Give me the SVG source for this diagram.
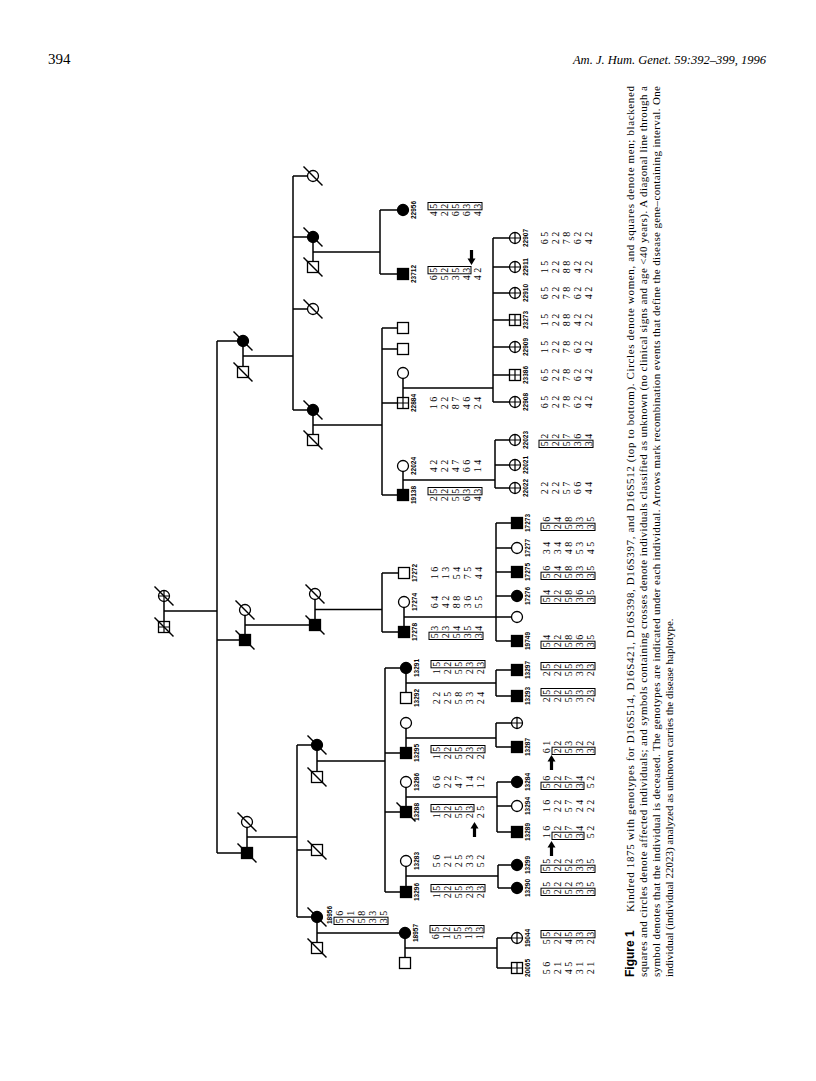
<svg xmlns="http://www.w3.org/2000/svg" xmlns:xlink="http://www.w3.org/1999/xlink" width="816" height="1081" viewBox="0 0 816 1081">
<style>
.o{fill:#fff;stroke:#000;stroke-width:1.3}
.f{fill:#000;stroke:#000;stroke-width:1.3}
.s{stroke:#000;stroke-width:1.2;fill:none}
.d{stroke:#000;stroke-width:1.5}
#connectors path{fill:none;stroke:#000;stroke-width:1.5}
.g{font-family:"Liberation Serif",serif;font-size:10px;text-anchor:middle;fill:#000}
.id{font-family:"Liberation Sans",sans-serif;font-size:6.5px;font-weight:bold;text-anchor:middle;fill:#000}
.bx{fill:none;stroke:#000;stroke-width:1}
.cap{font-family:"Liberation Serif",serif;font-size:11px;fill:#000}
.hd{font-family:"Liberation Serif",serif;fill:#000}
</style>
<defs>
<circle id="C" r="5.5" class="o"/>
<circle id="CF" r="5.5" class="f"/>
<g id="CX"><circle r="5.5" class="o"/><path d="M-5.5 0H5.5M0 -5.5V5.5" class="s"/></g>
<rect id="S" x="-5.5" y="-5.5" width="11" height="11" class="o"/>
<rect id="SF" x="-5.5" y="-5.5" width="11" height="11" class="f"/>
<g id="SX"><rect x="-5.5" y="-5.5" width="11" height="11" class="o"/><path d="M-5.5 0H5.5M0 -5.5V5.5" class="s"/></g>
<line id="D" x1="-9.5" y1="-9.5" x2="9.5" y2="9.5" class="d"/>
<path id="AU" d="M0 0L4 6.5H1.6V15H-1.6V6.5H-4Z" fill="#000"/>
<path id="AD" d="M0 0L4 -6.5H1.6V-15H-1.6V-6.5H-4Z" fill="#000"/>
</defs>
<rect width="816" height="1081" fill="#fff"/>
<text class="hd" x="48" y="64" font-size="15">394</text>
<text class="hd" x="766" y="64" font-size="12.5" font-style="italic" text-anchor="end">Am. J. Hum. Genet. 59:392–399, 1996</text>

<g id="connectors">
<path d="M164 601.5V621.5M164 611H217M217 341V853M217 341H237.5M217 640H239.5M217 853H241.5"/>
<path d="M243 346.5V366.5M243 356H293M293 176V410M293 176H307.5M293 237H307.5M293 309H307.5M293 410H307.5"/>
<path d="M313 242.5V261.5M313 252H380M380 210V274M380 210H397.5M380 274H397.5"/>
<path d="M313 415.5V434.5M313 425H382M382 328V495M382 328H397.5M382 349H397.5M382 403H397.5M382 495H397.5"/>
<path d="M403 378.5V397.5M403 388H493M493 238V402M493 238H509.5M493 267H509.5M493 293H509.5M493 320H509.5M493 347H509.5M493 375H509.5M493 402H509.5"/>
<path d="M403 471.5V489.5M403 480H495M495 440V488M495 440H509.5M495 465H509.5M495 488H509.5"/>
<path d="M245 615.5V634.5M245 625H309.5M315 599.5V619.5M315 609.5H382M382 573V632M382 573H398.5M382 632H398.5"/>
<path d="M404 607.5V626.5M404 617H496M496 523V641M496 523H511.5M496 548H511.5M496 572H511.5M496 596H511.5M496 617H511.5M496 641H511.5"/>
<path d="M247 827.5V847.5M247 837H297M297 745V917M297 745H311.5M297 850H311.5M297 917H311.5"/>
<path d="M317 750.5V771.5M317 761H385M385 668V892M385 668H400.5M385 753H400.5M385 812H400.5M385 892H400.5"/>
<path d="M406 673.5V692.5M406 683H496M496 670V696M496 670H511.5M496 696H511.5"/>
<path d="M406 728.5V747.5M406 738H496M496 723V747M496 723H511.5M496 747H511.5"/>
<path d="M406 787.5V806.5M406 797H497M497 782V832M497 782H511.5M497 806H511.5M497 832H511.5"/>
<path d="M406 866.5V886.5M406 876H498M498 865V888M498 865H511.5M498 888H511.5"/>
<path d="M317 922.5V942.5M317 933H399.5M405 938.5V957.5M405 948H497M497 938V968M497 938H511.5M497 968H511.5"/>
</g>

<g id="gen1">
<g id="i1a"><use href="#CX" x="164" y="596"/><use href="#D" x="164" y="596"/></g>
<g id="i1b"><use href="#SX" x="164" y="627"/><use href="#D" x="164" y="627"/></g>
</g>
<g id="gen2">
<g id="i2a"><use href="#CF" x="243" y="341"/><use href="#D" x="243" y="341"/></g>
<g id="i2a_sp"><use href="#S" x="243" y="372"/><use href="#D" x="243" y="372"/></g>
<g id="i2b_sp"><use href="#C" x="245" y="610"/><use href="#D" x="245" y="610"/></g>
<g id="i2b"><use href="#SF" x="245" y="640"/><use href="#D" x="245" y="640"/></g>
<g id="i2c_sp"><use href="#C" x="247" y="822"/><use href="#D" x="247" y="822"/></g>
<g id="i2c"><use href="#SF" x="247" y="853"/><use href="#D" x="247" y="853"/></g>
</g>
<g id="gen3">
<g id="i3a1"><use href="#C" x="313" y="176"/><use href="#D" x="313" y="176"/></g>
<g id="i3a2"><use href="#CF" x="313" y="237"/><use href="#D" x="313" y="237"/></g>
<g id="i3a2_sp"><use href="#S" x="313" y="267"/><use href="#D" x="313" y="267"/></g>
<g id="i3a3"><use href="#C" x="313" y="309"/><use href="#D" x="313" y="309"/></g>
<g id="i3a4"><use href="#CF" x="313" y="410"/><use href="#D" x="313" y="410"/></g>
<g id="i3a4_sp"><use href="#S" x="313" y="440"/><use href="#D" x="313" y="440"/></g>
<g id="i3b_sp"><use href="#C" x="315" y="594"/><use href="#D" x="315" y="594"/></g>
<g id="i3b"><use href="#SF" x="315" y="625"/><use href="#D" x="315" y="625"/></g>
<g id="i3c1"><use href="#CF" x="317" y="745"/><use href="#D" x="317" y="745"/></g>
<g id="i3c1_sp"><use href="#S" x="317" y="777"/><use href="#D" x="317" y="777"/></g>
<g id="i3c2"><use href="#S" x="317" y="850"/><use href="#D" x="317" y="850"/></g>
<g id="p18956"><use href="#CF" x="317" y="917"/><use href="#D" x="317" y="917"/><text class="id" transform="translate(332.3,915) rotate(-90)">18956</text><text class="g" transform="translate(342.5,917) rotate(-90)"><tspan x="0">5 6</tspan><tspan x="0" dy="11">2 1</tspan><tspan x="0" dy="11">5 8</tspan><tspan x="0" dy="11">3 3</tspan><tspan x="0" dy="11">3 5</tspan></text><rect class="bx" x="334" y="917.2" width="54" height="7.3"/></g>
<g id="i3c3_sp"><use href="#S" x="317" y="948"/><use href="#D" x="317" y="948"/></g>
</g>

<g id="gen4">
<g id="p22956"><use href="#CF" x="403" y="210"/><text class="id" transform="translate(416.3,210) rotate(-90)">22956</text><text class="g" transform="translate(436.5,210) rotate(-90)"><tspan x="0">4 5</tspan><tspan x="0" dy="11">2 2</tspan><tspan x="0" dy="11">6 5</tspan><tspan x="0" dy="11">6 3</tspan><tspan x="0" dy="11">4 3</tspan></text><rect class="bx" x="428" y="202.5" width="54" height="7.3"/></g>
<g id="p23712"><use href="#SF" x="403" y="274"/><text class="id" transform="translate(416.3,274) rotate(-90)">23712</text><text class="g" transform="translate(436.5,274) rotate(-90)"><tspan x="0">6 5</tspan><tspan x="0" dy="11">5 2</tspan><tspan x="0" dy="11">3 5</tspan><tspan x="0" dy="11">4 3</tspan><tspan x="0" dy="11">4 2</tspan></text><rect class="bx" x="428" y="266.5" width="43" height="7.3"/><use href="#AD" x="471.5" y="265"/></g>
<g id="u4a"><use href="#S" x="403" y="328"/></g>
<g id="u4b"><use href="#S" x="403" y="349"/></g>
<g id="u4c"><use href="#C" x="403" y="373"/></g>
<g id="p22884"><use href="#SX" x="403" y="403"/><text class="id" transform="translate(416.3,403) rotate(-90)">22884</text><text class="g" transform="translate(436.5,403) rotate(-90)"><tspan x="0">1 6</tspan><tspan x="0" dy="11">2 2</tspan><tspan x="0" dy="11">8 7</tspan><tspan x="0" dy="11">4 6</tspan><tspan x="0" dy="11">2 4</tspan></text></g>
<g id="p22024"><use href="#C" x="403" y="466"/><text class="id" transform="translate(416.3,466) rotate(-90)">22024</text><text class="g" transform="translate(436.5,466) rotate(-90)"><tspan x="0">4 2</tspan><tspan x="0" dy="11">2 2</tspan><tspan x="0" dy="11">4 7</tspan><tspan x="0" dy="11">6 6</tspan><tspan x="0" dy="11">1 4</tspan></text></g>
<g id="p19138"><use href="#SF" x="403" y="495"/><text class="id" transform="translate(416.3,495) rotate(-90)">19138</text><text class="g" transform="translate(436.5,495) rotate(-90)"><tspan x="0">2 5</tspan><tspan x="0" dy="11">2 2</tspan><tspan x="0" dy="11">5 5</tspan><tspan x="0" dy="11">6 3</tspan><tspan x="0" dy="11">4 3</tspan></text><rect class="bx" x="428" y="487.5" width="54" height="7.3"/></g>
<g id="p17272"><use href="#S" x="404" y="573"/><text class="id" transform="translate(417.3,573) rotate(-90)">17272</text><text class="g" transform="translate(437.5,573) rotate(-90)"><tspan x="0">1 6</tspan><tspan x="0" dy="11">1 3</tspan><tspan x="0" dy="11">5 4</tspan><tspan x="0" dy="11">7 5</tspan><tspan x="0" dy="11">4 4</tspan></text></g>
<g id="p17274"><use href="#C" x="404" y="602"/><text class="id" transform="translate(417.3,602) rotate(-90)">17274</text><text class="g" transform="translate(437.5,602) rotate(-90)"><tspan x="0">6 4</tspan><tspan x="0" dy="11">4 2</tspan><tspan x="0" dy="11">8 8</tspan><tspan x="0" dy="11">3 6</tspan><tspan x="0" dy="11">5 5</tspan></text></g>
<g id="p17278"><use href="#SF" x="404" y="632"/><text class="id" transform="translate(417.3,632) rotate(-90)">17278</text><text class="g" transform="translate(437.5,632) rotate(-90)"><tspan x="0">5 3</tspan><tspan x="0" dy="11">2 3</tspan><tspan x="0" dy="11">5 4</tspan><tspan x="0" dy="11">3 5</tspan><tspan x="0" dy="11">3 4</tspan></text><rect class="bx" x="429" y="632.2" width="54" height="7.3"/></g>
<g id="p13291"><use href="#CF" x="406" y="668"/><text class="id" transform="translate(419.3,668) rotate(-90)">13291</text><text class="g" transform="translate(439.5,668) rotate(-90)"><tspan x="0">1 5</tspan><tspan x="0" dy="11">2 2</tspan><tspan x="0" dy="11">5 5</tspan><tspan x="0" dy="11">2 3</tspan><tspan x="0" dy="11">2 3</tspan></text><rect class="bx" x="431" y="660.5" width="54" height="7.3"/></g>
<g id="p13292"><use href="#S" x="406" y="698"/><text class="id" transform="translate(419.3,698) rotate(-90)">13292</text><text class="g" transform="translate(439.5,698) rotate(-90)"><tspan x="0">2 2</tspan><tspan x="0" dy="11">2 5</tspan><tspan x="0" dy="11">5 8</tspan><tspan x="0" dy="11">3 3</tspan><tspan x="0" dy="11">2 4</tspan></text></g>
<g id="u4d"><use href="#C" x="406" y="723"/></g>
<g id="p13295"><use href="#SF" x="406" y="753"/><text class="id" transform="translate(419.3,753) rotate(-90)">13295</text><text class="g" transform="translate(439.5,753) rotate(-90)"><tspan x="0">1 5</tspan><tspan x="0" dy="11">2 2</tspan><tspan x="0" dy="11">5 5</tspan><tspan x="0" dy="11">2 3</tspan><tspan x="0" dy="11">2 3</tspan></text><rect class="bx" x="431" y="745.5" width="54" height="7.3"/></g>
<g id="p13286"><use href="#C" x="406" y="782"/><text class="id" transform="translate(419.3,782) rotate(-90)">13286</text><text class="g" transform="translate(439.5,782) rotate(-90)"><tspan x="0">6 6</tspan><tspan x="0" dy="11">2 2</tspan><tspan x="0" dy="11">4 7</tspan><tspan x="0" dy="11">1 4</tspan><tspan x="0" dy="11">1 2</tspan></text></g>
<g id="p13288"><use href="#SF" x="406" y="812"/><use href="#D" x="406" y="812"/><text class="id" transform="translate(419.3,812) rotate(-90)">13288</text><text class="g" transform="translate(439.5,812) rotate(-90)"><tspan x="0">1 5</tspan><tspan x="0" dy="11">2 2</tspan><tspan x="0" dy="11">5 5</tspan><tspan x="0" dy="11">2 3</tspan><tspan x="0" dy="11">2 5</tspan></text><rect class="bx" x="431" y="804.5" width="43" height="7.3"/><use href="#AU" x="474.5" y="822"/></g>
<g id="p13283"><use href="#C" x="406" y="861"/><text class="id" transform="translate(419.3,861) rotate(-90)">13283</text><text class="g" transform="translate(439.5,861) rotate(-90)"><tspan x="0">5 6</tspan><tspan x="0" dy="11">2 1</tspan><tspan x="0" dy="11">2 5</tspan><tspan x="0" dy="11">3 3</tspan><tspan x="0" dy="11">5 2</tspan></text></g>
<g id="p13296"><use href="#SF" x="406" y="892"/><text class="id" transform="translate(419.3,892) rotate(-90)">13296</text><text class="g" transform="translate(439.5,892) rotate(-90)"><tspan x="0">1 5</tspan><tspan x="0" dy="11">2 2</tspan><tspan x="0" dy="11">5 5</tspan><tspan x="0" dy="11">2 3</tspan><tspan x="0" dy="11">2 3</tspan></text><rect class="bx" x="431" y="884.5" width="54" height="7.3"/></g>
<g id="p18957"><use href="#CF" x="405" y="933"/><text class="id" transform="translate(418.3,933) rotate(-90)">18957</text><text class="g" transform="translate(438.5,933) rotate(-90)"><tspan x="0">6 5</tspan><tspan x="0" dy="11">1 2</tspan><tspan x="0" dy="11">5 5</tspan><tspan x="0" dy="11">1 3</tspan><tspan x="0" dy="11">1 3</tspan></text><rect class="bx" x="430" y="925.5" width="54" height="7.3"/></g>
<g id="u4e"><use href="#S" x="405" y="963"/></g>
</g>

<g id="gen5">
<g id="p22907"><use href="#CX" x="515" y="238"/><text class="id" transform="translate(528.3,238) rotate(-90)">22907</text><text class="g" transform="translate(547.5,238) rotate(-90)"><tspan x="0">6 5</tspan><tspan x="0" dy="11">2 2</tspan><tspan x="0" dy="11">7 8</tspan><tspan x="0" dy="11">6 2</tspan><tspan x="0" dy="11">4 2</tspan></text></g>
<g id="p22911"><use href="#CX" x="515" y="267"/><text class="id" transform="translate(528.3,267) rotate(-90)">22911</text><text class="g" transform="translate(547.5,267) rotate(-90)"><tspan x="0">1 5</tspan><tspan x="0" dy="11">2 2</tspan><tspan x="0" dy="11">8 8</tspan><tspan x="0" dy="11">4 2</tspan><tspan x="0" dy="11">2 2</tspan></text></g>
<g id="p22910"><use href="#CX" x="515" y="293"/><text class="id" transform="translate(528.3,293) rotate(-90)">22910</text><text class="g" transform="translate(547.5,293) rotate(-90)"><tspan x="0">6 5</tspan><tspan x="0" dy="11">2 2</tspan><tspan x="0" dy="11">7 8</tspan><tspan x="0" dy="11">6 2</tspan><tspan x="0" dy="11">4 2</tspan></text></g>
<g id="p23273"><use href="#SX" x="515" y="320"/><text class="id" transform="translate(528.3,320) rotate(-90)">23273</text><text class="g" transform="translate(547.5,320) rotate(-90)"><tspan x="0">1 5</tspan><tspan x="0" dy="11">2 2</tspan><tspan x="0" dy="11">8 8</tspan><tspan x="0" dy="11">4 2</tspan><tspan x="0" dy="11">2 2</tspan></text></g>
<g id="p22909"><use href="#CX" x="515" y="347"/><text class="id" transform="translate(528.3,347) rotate(-90)">22909</text><text class="g" transform="translate(547.5,347) rotate(-90)"><tspan x="0">1 5</tspan><tspan x="0" dy="11">2 2</tspan><tspan x="0" dy="11">7 8</tspan><tspan x="0" dy="11">6 2</tspan><tspan x="0" dy="11">4 2</tspan></text></g>
<g id="p23386"><use href="#SX" x="515" y="375"/><text class="id" transform="translate(528.3,375) rotate(-90)">23386</text><text class="g" transform="translate(547.5,375) rotate(-90)"><tspan x="0">6 5</tspan><tspan x="0" dy="11">2 2</tspan><tspan x="0" dy="11">7 8</tspan><tspan x="0" dy="11">6 2</tspan><tspan x="0" dy="11">4 2</tspan></text></g>
<g id="p22908"><use href="#CX" x="515" y="402"/><text class="id" transform="translate(528.3,402) rotate(-90)">22908</text><text class="g" transform="translate(547.5,402) rotate(-90)"><tspan x="0">6 5</tspan><tspan x="0" dy="11">2 2</tspan><tspan x="0" dy="11">7 8</tspan><tspan x="0" dy="11">6 2</tspan><tspan x="0" dy="11">4 2</tspan></text></g>
<g id="p22023"><use href="#CX" x="515" y="440"/><text class="id" transform="translate(528.3,440) rotate(-90)">22023</text><text class="g" transform="translate(547.5,440) rotate(-90)"><tspan x="0">5 2</tspan><tspan x="0" dy="11">2 2</tspan><tspan x="0" dy="11">5 7</tspan><tspan x="0" dy="11">3 6</tspan><tspan x="0" dy="11">3 4</tspan></text><rect class="bx" x="539" y="440.2" width="54" height="7.3"/></g>
<g id="p22021"><use href="#CX" x="515" y="465"/><text class="id" transform="translate(528.3,465) rotate(-90)">22021</text></g>
<g id="p22022"><use href="#CX" x="515" y="488"/><text class="id" transform="translate(528.3,488) rotate(-90)">22022</text><text class="g" transform="translate(547.5,488) rotate(-90)"><tspan x="0">2 2</tspan><tspan x="0" dy="11">2 2</tspan><tspan x="0" dy="11">5 7</tspan><tspan x="0" dy="11">6 6</tspan><tspan x="0" dy="11">4 4</tspan></text></g>
<g id="p17273"><use href="#SF" x="517" y="523"/><text class="id" transform="translate(530.3,523) rotate(-90)">17273</text><text class="g" transform="translate(549.5,523) rotate(-90)"><tspan x="0">5 6</tspan><tspan x="0" dy="11">2 4</tspan><tspan x="0" dy="11">5 8</tspan><tspan x="0" dy="11">3 3</tspan><tspan x="0" dy="11">3 5</tspan></text><rect class="bx" x="541" y="523.2" width="54" height="7.3"/></g>
<g id="p17277"><use href="#C" x="517" y="548"/><text class="id" transform="translate(530.3,548) rotate(-90)">17277</text><text class="g" transform="translate(549.5,548) rotate(-90)"><tspan x="0">3 4</tspan><tspan x="0" dy="11">3 4</tspan><tspan x="0" dy="11">4 8</tspan><tspan x="0" dy="11">5 3</tspan><tspan x="0" dy="11">4 5</tspan></text></g>
<g id="p17275"><use href="#SF" x="517" y="572"/><text class="id" transform="translate(530.3,572) rotate(-90)">17275</text><text class="g" transform="translate(549.5,572) rotate(-90)"><tspan x="0">5 6</tspan><tspan x="0" dy="11">2 4</tspan><tspan x="0" dy="11">5 8</tspan><tspan x="0" dy="11">3 3</tspan><tspan x="0" dy="11">3 5</tspan></text><rect class="bx" x="541" y="572.2" width="54" height="7.3"/></g>
<g id="p17276"><use href="#CF" x="517" y="596"/><text class="id" transform="translate(530.3,596) rotate(-90)">17276</text><text class="g" transform="translate(549.5,596) rotate(-90)"><tspan x="0">5 4</tspan><tspan x="0" dy="11">2 2</tspan><tspan x="0" dy="11">5 8</tspan><tspan x="0" dy="11">3 6</tspan><tspan x="0" dy="11">3 5</tspan></text><rect class="bx" x="541" y="596.2" width="54" height="7.3"/></g>
<g id="u5a"><use href="#C" x="517" y="617"/></g>
<g id="p19749"><use href="#SF" x="517" y="641"/><text class="id" transform="translate(530.3,641) rotate(-90)">19749</text><text class="g" transform="translate(549.5,641) rotate(-90)"><tspan x="0">5 4</tspan><tspan x="0" dy="11">2 2</tspan><tspan x="0" dy="11">5 8</tspan><tspan x="0" dy="11">3 6</tspan><tspan x="0" dy="11">3 5</tspan></text><rect class="bx" x="541" y="641.2" width="54" height="7.3"/></g>
<g id="p13297"><use href="#SF" x="517" y="670"/><text class="id" transform="translate(530.3,670) rotate(-90)">13297</text><text class="g" transform="translate(549.5,670) rotate(-90)"><tspan x="0">2 5</tspan><tspan x="0" dy="11">2 2</tspan><tspan x="0" dy="11">5 5</tspan><tspan x="0" dy="11">3 3</tspan><tspan x="0" dy="11">2 3</tspan></text><rect class="bx" x="541" y="662.5" width="54" height="7.3"/></g>
<g id="p13293"><use href="#SF" x="517" y="696"/><text class="id" transform="translate(530.3,696) rotate(-90)">13293</text><text class="g" transform="translate(549.5,696) rotate(-90)"><tspan x="0">2 5</tspan><tspan x="0" dy="11">2 2</tspan><tspan x="0" dy="11">5 5</tspan><tspan x="0" dy="11">3 3</tspan><tspan x="0" dy="11">2 3</tspan></text><rect class="bx" x="541" y="688.5" width="54" height="7.3"/></g>
<g id="u5b"><use href="#CX" x="517" y="723"/></g>
<g id="p13287"><use href="#SF" x="517" y="747"/><text class="id" transform="translate(530.3,747) rotate(-90)">13287</text><text class="g" transform="translate(549.5,747) rotate(-90)"><tspan x="0">6 1</tspan><tspan x="0" dy="11">2 2</tspan><tspan x="0" dy="11">5 3</tspan><tspan x="0" dy="11">3 2</tspan><tspan x="0" dy="11">3 2</tspan></text><rect class="bx" x="552" y="747.2" width="43" height="7.3"/><use href="#AU" x="551.5" y="755"/></g>
<g id="p13284"><use href="#CF" x="517" y="782"/><text class="id" transform="translate(530.3,782) rotate(-90)">13284</text><text class="g" transform="translate(549.5,782) rotate(-90)"><tspan x="0">5 6</tspan><tspan x="0" dy="11">2 2</tspan><tspan x="0" dy="11">5 7</tspan><tspan x="0" dy="11">3 4</tspan><tspan x="0" dy="11">5 2</tspan></text><rect class="bx" x="541" y="782.2" width="43" height="7.3"/></g>
<g id="p13294"><use href="#C" x="517" y="806"/><text class="id" transform="translate(530.3,806) rotate(-90)">13294</text><text class="g" transform="translate(549.5,806) rotate(-90)"><tspan x="0">1 6</tspan><tspan x="0" dy="11">2 2</tspan><tspan x="0" dy="11">5 7</tspan><tspan x="0" dy="11">2 4</tspan><tspan x="0" dy="11">2 2</tspan></text></g>
<g id="p13289"><use href="#SF" x="517" y="832"/><text class="id" transform="translate(530.3,832) rotate(-90)">13289</text><text class="g" transform="translate(549.5,832) rotate(-90)"><tspan x="0">1 6</tspan><tspan x="0" dy="11">2 2</tspan><tspan x="0" dy="11">5 7</tspan><tspan x="0" dy="11">3 4</tspan><tspan x="0" dy="11">5 2</tspan></text><rect class="bx" x="552" y="832.2" width="32" height="7.3"/><use href="#AU" x="551.5" y="841"/></g>
<g id="p13299"><use href="#CF" x="517" y="865"/><text class="id" transform="translate(530.3,865) rotate(-90)">13299</text><text class="g" transform="translate(549.5,865) rotate(-90)"><tspan x="0">5 5</tspan><tspan x="0" dy="11">2 2</tspan><tspan x="0" dy="11">5 2</tspan><tspan x="0" dy="11">3 3</tspan><tspan x="0" dy="11">3 5</tspan></text><rect class="bx" x="541" y="865.2" width="54" height="7.3"/></g>
<g id="p13290"><use href="#CF" x="517" y="888"/><text class="id" transform="translate(530.3,888) rotate(-90)">13290</text><text class="g" transform="translate(549.5,888) rotate(-90)"><tspan x="0">5 5</tspan><tspan x="0" dy="11">2 2</tspan><tspan x="0" dy="11">5 2</tspan><tspan x="0" dy="11">3 3</tspan><tspan x="0" dy="11">3 5</tspan></text><rect class="bx" x="541" y="888.2" width="54" height="7.3"/></g>
<g id="p19044"><use href="#CX" x="517" y="938"/><text class="id" transform="translate(530.3,938) rotate(-90)">19044</text><text class="g" transform="translate(549.5,938) rotate(-90)"><tspan x="0">5 5</tspan><tspan x="0" dy="11">2 2</tspan><tspan x="0" dy="11">4 5</tspan><tspan x="0" dy="11">3 3</tspan><tspan x="0" dy="11">2 3</tspan></text><rect class="bx" x="541" y="930.5" width="54" height="7.3"/></g>
<g id="p20065"><use href="#SX" x="517" y="968"/><text class="id" transform="translate(530.3,968) rotate(-90)">20065</text><text class="g" transform="translate(549.5,968) rotate(-90)"><tspan x="0">5 6</tspan><tspan x="0" dy="11">2 1</tspan><tspan x="0" dy="11">4 5</tspan><tspan x="0" dy="11">3 1</tspan><tspan x="0" dy="11">2 1</tspan></text></g>
</g>

<g id="caption">
<text transform="translate(634,977) rotate(-90)" font-family="'Liberation Sans',sans-serif" font-weight="bold" font-size="12" fill="#000">Figure 1</text>
<text class="cap" transform="translate(634,912) rotate(-90)" textLength="826" lengthAdjust="spacing">Kindred 1875 with genotypes for D16S514, D16S421, D16S398, D16S397, and D16S512 (top to bottom). Circles denote women, and squares denote men; blackened</text>
<text class="cap" transform="translate(647,977) rotate(-90)" textLength="891" lengthAdjust="spacing">squares and circles denote affected individuals; and symbols containing crosses denote individuals classified as unknown (no clinical signs and age &lt;40 years). A diagonal line through a</text>
<text class="cap" transform="translate(660,977) rotate(-90)" textLength="891" lengthAdjust="spacing">symbol denotes that the individual is deceased. The genotypes are indicated under each individual. Arrows mark recombination events that define the disease gene–containing interval. One</text>
<text class="cap" transform="translate(673,977) rotate(-90)">individual (individual 22023) analyzed as unknown carries the disease haplotype.</text>
</g>
</svg>
